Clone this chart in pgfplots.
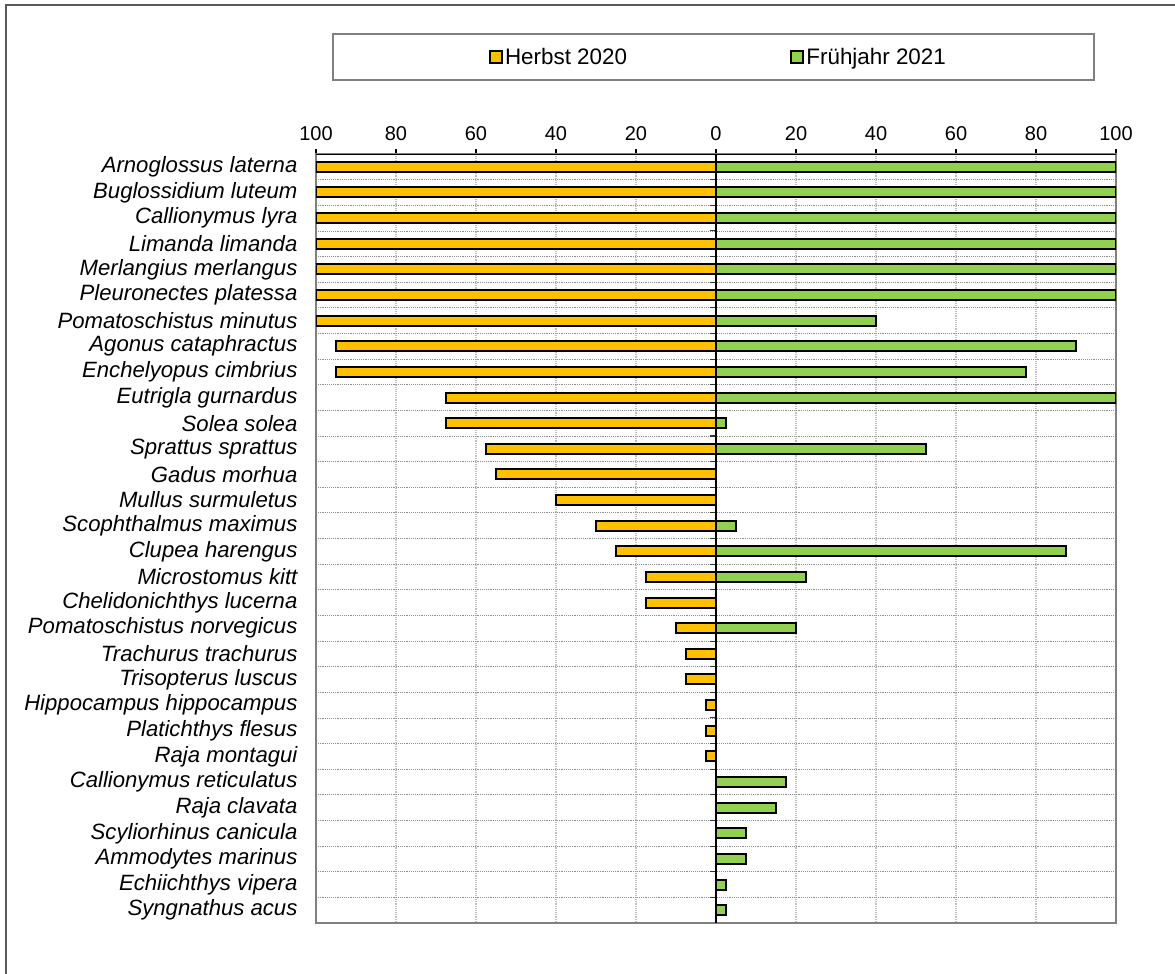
\documentclass[border=0pt]{standalone}
\usepackage{fontspec}
\setmainfont{Liberation Sans}
\usepackage{pgfplots}
\pgfplotsset{compat=1.18}
\definecolor{herbst}{HTML}{FFC000}
\definecolor{fruh}{HTML}{92D050}
\definecolor{vgrid}{HTML}{BFBFBF}
\definecolor{hgrid}{HTML}{8C8C8C}
\definecolor{frame}{HTML}{808080}
\begin{document}
\begin{tikzpicture}
\useasboundingbox (0,0) rectangle (881.25pt,730.5pt);
\draw[frame!70!black, line width=1.5pt] (4.5pt,-2pt) -- (4.5pt,726.75pt) -- (884pt,726.75pt);
\draw[frame, line width=1pt] (249.75pt,670.5pt) rectangle (820.5pt,705pt);
\begin{axis}[
  at={(237pt,38.25pt)}, anchor=south west,
  scale only axis, width=600pt, height=576.75pt,
  xmin=-100, xmax=100, ymin=0.5, ymax=30.5, y dir=reverse,
  xbar, bar shift=0pt, bar width=7.5pt,
  xtick={-100,-80,...,100},
  xticklabels={100,80,60,40,20,0,20,40,60,80,100},
  xticklabel pos=upper, xtick pos=upper, tick align=outside,
  major tick length=3.75pt,
  x tick style={black, line width=0.8pt},
  ytick={1,...,30},
  yticklabels={Arnoglossus laterna,Buglossidium luteum,Callionymus lyra,Limanda limanda,Merlangius merlangus,Pleuronectes platessa,Pomatoschistus minutus,Agonus cataphractus,Enchelyopus cimbrius,Eutrigla gurnardus,Solea solea,Sprattus sprattus,Gadus morhua,Mullus surmuletus,Scophthalmus maximus,Clupea harengus,Microstomus kitt,Chelidonichthys lucerna,Pomatoschistus norvegicus,Trachurus trachurus,Trisopterus luscus,Hippocampus hippocampus,Platichthys flesus,Raja montagui,Callionymus reticulatus,Raja clavata,Scyliorhinus canicula,Ammodytes marinus,Echiichthys vipera,Syngnathus acus},
  minor ytick={1.5,2.5,...,29.5},
  y tick style={draw=none},
  xmajorgrids, yminorgrids,
  major x grid style={vgrid, densely dotted, line width=0.9pt},
  minor y grid style={hgrid, densely dotted, line width=0.6pt},
  axis line style={frame, line width=1.5pt},
  /pgf/number format/assume math mode=true,
  xticklabel style={font=\fontsize{15}{18}\selectfont, yshift=3pt},
  yticklabel style={font=\fontsize{16.6}{19}\selectfont\itshape, inner sep=0pt, xshift=-10pt},
  legend style={at={(0.216,1.126)}, anchor=west, draw=none, fill=none,
    legend columns=2, font=\fontsize{16.8}{19}\selectfont, inner sep=0pt,
    nodes={inner sep=1.5pt},
    /tikz/every even column/.append style={column sep=121pt}},
  legend image code/.code={\draw[#1] (0pt,-4.5pt) rectangle (9pt,4.5pt);},
]
\pgfplotsinvokeforeach{1,2,...,30}{\draw[black!80, line width=0.8pt] (axis cs:-1.6,#1-0.5) -- (axis cs:0,#1-0.5);}
\addplot[draw=black, fill=herbst, line width=1.5pt] coordinates {
(-100,1) (-100,2) (-100,3) (-100,4) (-100,5) (-100,6) (-100,7)
(-95,8) (-95,9) (-67.5,10) (-67.5,11) (-57.5,12) (-55,13) (-40,14)
(-30,15) (-25,16) (-17.5,17) (-17.5,18) (-10,19) (-7.5,20) (-7.5,21)
(-2.5,22) (-2.5,23) (-2.5,24)};
\addplot[draw=black, fill=fruh, line width=1.5pt] coordinates {
(100,1) (100,2) (100,3) (100,4) (100,5) (100,6) (40,7) (90,8) (77.5,9)
(100,10) (2.5,11) (52.5,12) (5,15) (87.5,16) (22.5,17) (20,19)
(17.5,25) (15,26) (7.5,27) (7.5,28) (2.5,29) (2.5,30)};
\legend{Herbst 2020,Frühjahr 2021}
\draw[black, line width=1pt] (axis cs:0,0.5) -- (axis cs:0,30.5);
\draw[black, line width=1pt] (axis cs:-100,0.5) -- (axis cs:100,0.5);
\end{axis}
\end{tikzpicture}
\end{document}
